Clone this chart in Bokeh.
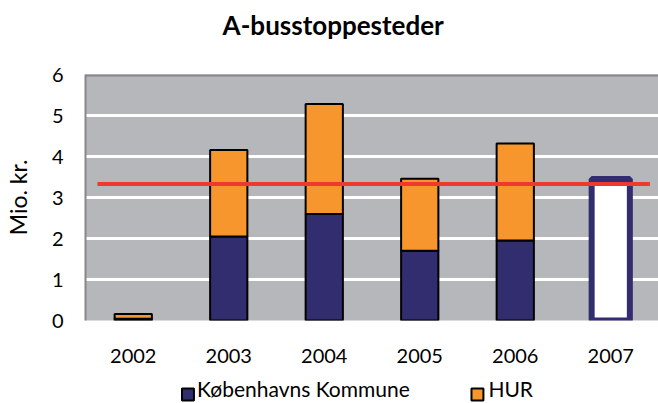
from bokeh.plotting import figure
from bokeh.layouts import column
from bokeh.models import Range1d, FixedTicker, Span, ColumnDataSource
from bokeh.core.properties import value
from bokeh.embed import file_html
from bokeh.resources import INLINE

# ---- data ----
years = ["2002", "2003", "2004", "2005", "2006", "2007"]
kk = [0.04, 2.05, 2.60, 1.70, 1.95, 3.45]     # Københavns Kommune
hur = [0.12, 2.11, 2.68, 1.76, 2.37, 0.0]     # HUR
avg = 3.33                                     # red reference line
yticks = [0, 1, 2, 3, 4, 5, 6]
series_names = ["Københavns Kommune", "HUR"]
title_text = "A-busstoppesteder"

# ---- style ----
NAVY = "#322D6F"
ORANGE = "#F7962C"
BG = "#B6B7BB"
RED = "#EE3A2E"
AXG = "#86868A"
FONT = "Lato"
W = 658
LEFT = 82  # frame left edge (frames of stacked figures are aligned)


def strip(h):
    # x coordinates in the strip equal page pixels; y = pixels from strip bottom
    f = figure(width=W, height=h, output_backend="svg", toolbar_location=None,
               x_range=Range1d(LEFT, W), y_range=Range1d(0, h),
               x_axis_location=None, y_axis_location=None,
               min_border_left=LEFT, min_border_right=0, min_border_top=0, min_border_bottom=0)
    f.grid.visible = False
    f.outline_line_color = None
    f.background_fill_color = "white"
    f.border_fill_color = "white"
    return f


# ---- title strip ----
p0 = strip(60)
p0.text(x=[331], y=[36], text=[title_text], text_align="center", text_baseline="alphabetic",
        text_font=value(FONT), text_font_size="26px", text_font_style="bold", text_color="black")

# ---- main chart ----
xs = list(range(len(years)))
n = len(years) - 1  # last year drawn as outlined bar

p = figure(width=W, height=312, output_backend="svg", toolbar_location=None,
           x_range=Range1d(-0.5, len(years) - 0.5), y_range=Range1d(0, 6),
           min_border_left=LEFT, min_border_right=0, min_border_top=14, min_border_bottom=52)

p.background_fill_color = BG
p.border_fill_color = "white"
p.outline_line_color = None

src = ColumnDataSource(dict(x=xs[:n], kk=kk[:n], top=[a + b for a, b in zip(kk[:n], hur[:n])]))
p.vbar(x="x", top="kk", bottom=0, width=0.39, fill_color=NAVY,
       line_color="black", line_width=2, source=src)
p.vbar(x="x", bottom="kk", top="top", width=0.39, fill_color=ORANGE,
       line_color="black", line_width=2, source=src)
p.vbar(x=[xs[n]], top=[kk[n]], bottom=0, width=0.40, fill_color="white",
       line_color=NAVY, line_width=6)

p.line(x=[-0.375, 5.41], y=[avg, avg], line_color=RED, line_width=4)

p.add_layout(Span(location=6, dimension="width", line_color=AXG, line_width=4))

p.xgrid.grid_line_color = None
p.ygrid.grid_line_color = "white"
p.ygrid.grid_line_width = 3
p.ygrid.ticker = FixedTicker(ticks=yticks)

p.yaxis.ticker = FixedTicker(ticks=yticks)
p.yaxis.axis_line_color = AXG
p.yaxis.axis_line_width = 2
p.yaxis.major_tick_line_color = None
p.yaxis.minor_tick_line_color = None
p.yaxis.major_label_text_font = FONT
p.yaxis.major_label_text_font_size = "20px"
p.yaxis.major_label_text_color = "black"
p.yaxis.major_label_standoff = 16
p.yaxis.axis_label = "Mio. kr."
p.yaxis.axis_label_text_font = FONT
p.yaxis.axis_label_text_font_size = "23px"
p.yaxis.axis_label_text_font_style = "normal"
p.yaxis.axis_label_text_color = "black"
p.yaxis.axis_label_standoff = 17

p.xaxis.ticker = FixedTicker(ticks=xs)
p.xaxis.major_label_overrides = {i: y for i, y in zip(xs, years)}
p.xaxis.axis_line_color = None
p.xaxis.major_tick_line_color = None
p.xaxis.minor_tick_line_color = None
p.xaxis.major_label_text_font = FONT
p.xaxis.major_label_text_font_size = "20px"
p.xaxis.major_label_text_color = "black"
p.xaxis.major_label_standoff = 22

# ---- legend strip ----
p2 = strip(31)
p2.rect(x=[185, 476], y=[9, 9], width=12, height=12,
        fill_color=[NAVY, ORANGE], line_color="black", line_width=2)
p2.text(x=[194, 487], y=[15, 15], text=series_names, text_align="left",
        text_baseline="alphabetic", text_font=value(FONT), text_font_size="21px",
        text_color="black")

open("out.html", "w").write(file_html(column(p0, p, p2, spacing=0), INLINE))
